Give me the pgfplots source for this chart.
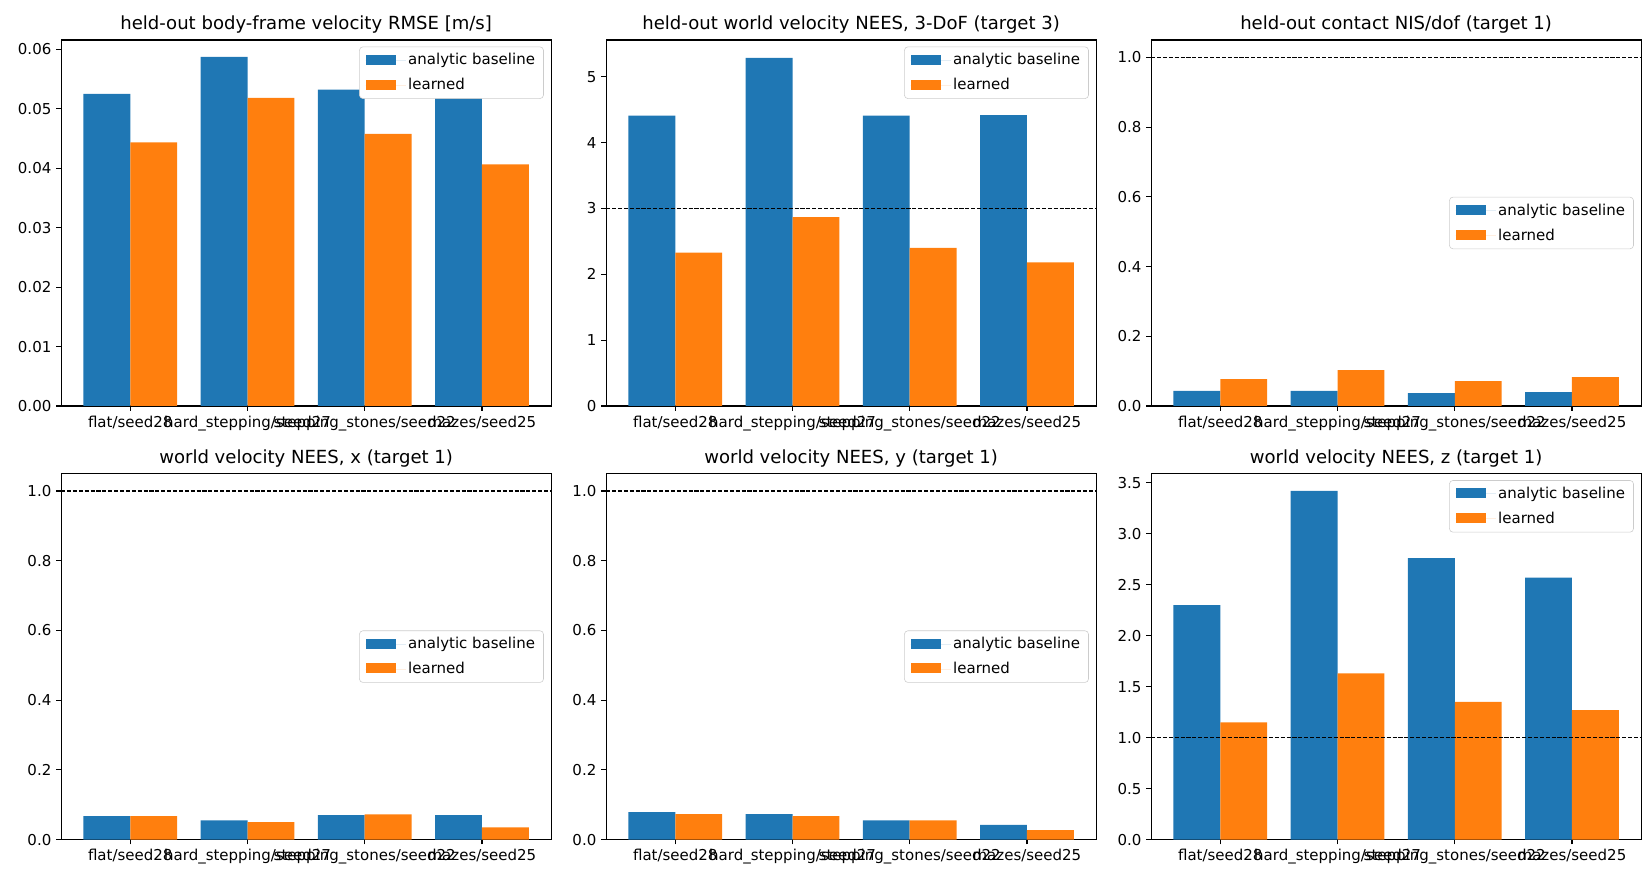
\documentclass[border=0pt]{standalone}
\usepackage{pgfplots}
\pgfplotsset{compat=1.18}
\usepgfplotslibrary{groupplots}
\usepackage{fontspec}
\setmainfont{DejaVu Sans}
\definecolor{tabblue}{HTML}{1F77B4}
\definecolor{taborange}{HTML}{FF7F0E}
\pgfplotsset{
  mybar/.style={ybar, bar width=0.4, draw=none, fill=#1},
  myleg/.style={legend style={at={#1}, font=\fontsize{10.8}{12.6}\selectfont, draw=black!20, rounded corners=2.5pt, fill=white, inner xsep=4.5pt, inner ysep=3.2pt, nodes={inner sep=1.6pt}, row sep=5pt, legend cell align=left},},
  every axis/.append style={
    scale only axis, width=352.8pt, height=263.5pt,
    xmin=-0.59, xmax=3.59, ymin=0,
    xtick={0,1,2,3},
    xticklabels={flat/seed28, hard\_stepping/seed27, stepping\_stones/seed22, mazes/seed25},
    tick align=outside, xtick pos=bottom, ytick pos=left,
    major tick length=3.5pt,
    every tick/.style={black, line width=0.8pt},
    axis line style={line width=0.8pt},
    tick label style={font=\fontsize{10.8}{12.6}\selectfont},
    /pgf/number format/assume math mode=true,
    title style={font=\fontsize{13}{15}\selectfont, yshift=-5pt},
    legend image code/.code={\fill[##1, sharp corners] (0pt,-3.2pt) rectangle (22pt,4.0pt); \path (0pt,0pt) -- (29pt,0pt);},
  },
}
\begin{document}
\begin{tikzpicture}
\begin{groupplot}[group style={group size=3 by 2, horizontal sep=39.6pt, vertical sep=48.7pt}]
% 1
\nextgroupplot[title={held-out body-frame velocity RMSE [m/s]}, ymax=0.0616,
  ytick={0,0.01,0.02,0.03,0.04,0.05,0.06},
  yticklabel style={/pgf/number format/.cd, fixed, fixed zerofill, precision=2},
  scaled y ticks=false,
  myleg={(0.985,0.982)}, legend style={anchor=north east}]
\addplot[mybar=tabblue, bar shift=-0.2] coordinates {(0,0.05255) (1,0.05876) (2,0.05326) (3,0.0535)};
\addplot[mybar=taborange, bar shift=0.2] coordinates {(0,0.04438) (1,0.05184) (2,0.0458) (3,0.04065)};
\legend{analytic baseline, learned}
% 2
\nextgroupplot[title={held-out world velocity NEES, 3-DoF (target 3)}, ymax=5.56,
  ytick={0,1,2,3,4,5},
  myleg={(0.985,0.982)}, legend style={anchor=north east}]
\addplot[mybar=tabblue, bar shift=-0.2] coordinates {(0,4.41) (1,5.29) (2,4.41) (3,4.42)};
\addplot[mybar=taborange, bar shift=0.2] coordinates {(0,2.33) (1,2.87) (2,2.40) (3,2.18)};
\addplot[black, line width=0.8pt, dash pattern=on 2.96pt off 1.28pt, forget plot] coordinates {(-0.59,3) (3.59,3)};
\legend{analytic baseline, learned}
% 3
\nextgroupplot[title={held-out contact NIS/dof (target 1)}, ymax=1.05,
  ytick={0,0.2,0.4,0.6,0.8,1.0},
  yticklabel style={/pgf/number format/.cd, fixed, fixed zerofill, precision=1},
  myleg={(0.985,0.5)}, legend style={anchor=east}]
\addplot[mybar=tabblue, bar shift=-0.2] coordinates {(0,0.043) (1,0.043) (2,0.037) (3,0.040)};
\addplot[mybar=taborange, bar shift=0.2] coordinates {(0,0.077) (1,0.103) (2,0.071) (3,0.083)};
\addplot[black, line width=0.8pt, dash pattern=on 2.96pt off 1.28pt, forget plot] coordinates {(-0.59,1) (3.59,1)};
\legend{analytic baseline, learned}
% 4
\nextgroupplot[title={world velocity NEES, x (target 1)}, ymax=1.05,
  ytick={0,0.2,0.4,0.6,0.8,1.0},
  yticklabel style={/pgf/number format/.cd, fixed, fixed zerofill, precision=1},
  myleg={(0.985,0.5)}, legend style={anchor=east}]
\addplot[mybar=tabblue, bar shift=-0.2] coordinates {(0,0.067) (1,0.055) (2,0.070) (3,0.070)};
\addplot[mybar=taborange, bar shift=0.2] coordinates {(0,0.067) (1,0.050) (2,0.072) (3,0.035)};
\addplot[black, line width=0.8pt, dash pattern=on 2.96pt off 1.28pt, forget plot] coordinates {(-0.59,1) (3.59,1)};
\legend{analytic baseline, learned}
% 5
\nextgroupplot[title={world velocity NEES, y (target 1)}, ymax=1.05,
  ytick={0,0.2,0.4,0.6,0.8,1.0},
  yticklabel style={/pgf/number format/.cd, fixed, fixed zerofill, precision=1},
  myleg={(0.985,0.5)}, legend style={anchor=east}]
\addplot[mybar=tabblue, bar shift=-0.2] coordinates {(0,0.079) (1,0.073) (2,0.055) (3,0.042)};
\addplot[mybar=taborange, bar shift=0.2] coordinates {(0,0.073) (1,0.067) (2,0.055) (3,0.027)};
\addplot[black, line width=0.8pt, dash pattern=on 2.96pt off 1.28pt, forget plot] coordinates {(-0.59,1) (3.59,1)};
\legend{analytic baseline, learned}
% 6
\nextgroupplot[title={world velocity NEES, z (target 1)}, ymax=3.59,
  ytick={0,0.5,1,1.5,2,2.5,3,3.5},
  yticklabel style={/pgf/number format/.cd, fixed, fixed zerofill, precision=1},
  myleg={(0.985,0.982)}, legend style={anchor=north east}]
\addplot[mybar=tabblue, bar shift=-0.2] coordinates {(0,2.30) (1,3.42) (2,2.76) (3,2.57)};
\addplot[mybar=taborange, bar shift=0.2] coordinates {(0,1.15) (1,1.63) (2,1.35) (3,1.27)};
\addplot[black, line width=0.8pt, dash pattern=on 2.96pt off 1.28pt, forget plot] coordinates {(-0.59,1) (3.59,1)};
\legend{analytic baseline, learned}
\end{groupplot}
\pgfresetboundingbox
\path ([xshift=-44pt,yshift=28.8pt]group c1r1.north west) rectangle ++(1188pt,-633.6pt);
\end{tikzpicture}
\end{document}
